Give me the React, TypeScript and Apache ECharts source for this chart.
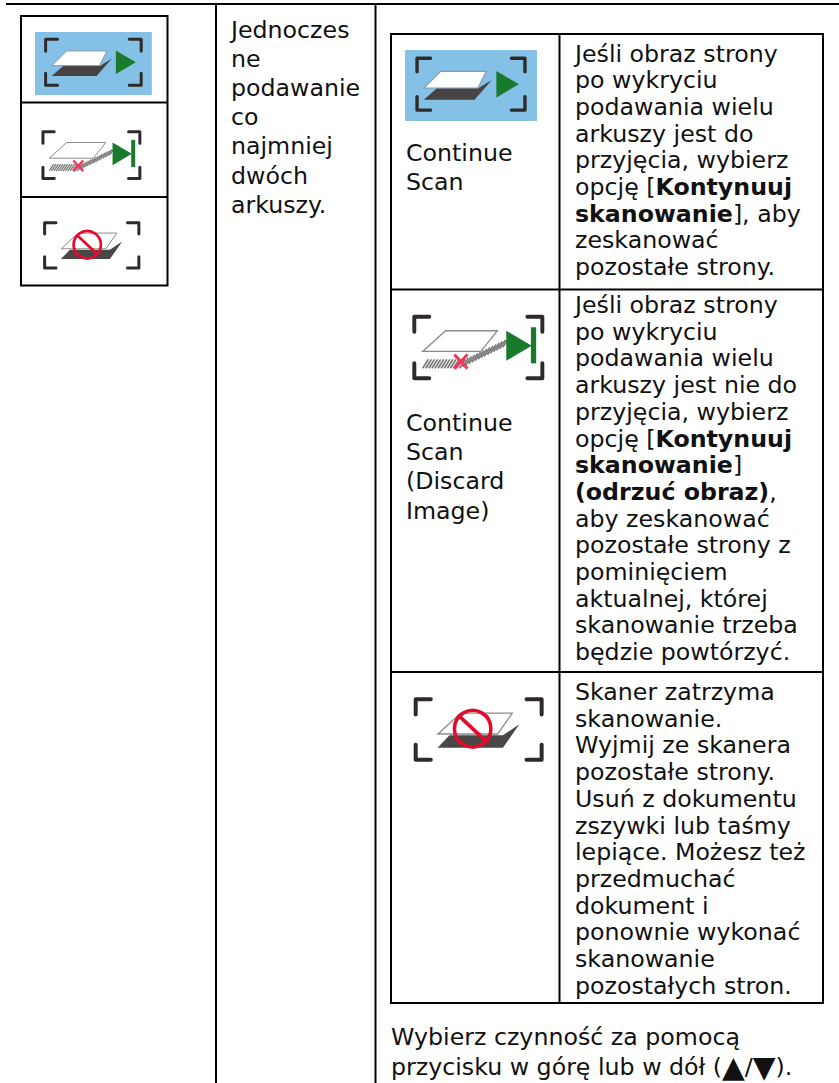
import React, { useEffect, useRef } from "react";
import * as echarts from "echarts";

const FONT = '"DejaVu Sans", Verdana, sans-serif';
const INK = "#111111";

const leftCellLines = ["Jednoczes", "ne", "podawanie", "co", "najmniej", "dwóch", "arkuszy."];
const caption1 = ["Continue", "Scan"];
const caption2 = ["Continue", "Scan", "(Discard", "Image)"];
const desc1 = [
  "Jeśli obraz strony",
  "po wykryciu",
  "podawania wielu",
  "arkuszy jest do",
  "przyjęcia, wybierz",
  "opcję [{b|Kontynuuj}",
  "{b|skanowanie}], aby",
  "zeskanować",
  "pozostałe strony.",
];
const desc2 = [
  "Jeśli obraz strony",
  "po wykryciu",
  "podawania wielu",
  "arkuszy jest nie do",
  "przyjęcia, wybierz",
  "opcję [{b|Kontynuuj}",
  "{b|skanowanie}]",
  "{b|(odrzuć obraz)},",
  "aby zeskanować",
  "pozostałe strony z",
  "pominięciem",
  "aktualnej, której",
  "skanowanie trzeba",
  "będzie powtórzyć.",
];
const desc3 = [
  "Skaner zatrzyma",
  "skanowanie.",
  "Wyjmij ze skanera",
  "pozostałe strony.",
  "Usuń z dokumentu",
  "zszywki lub taśmy",
  "lepiące. Możesz też",
  "przedmuchać",
  "dokument i",
  "ponownie wykonać",
  "skanowanie",
  "pozostałych stron.",
];
const footer = ["Wybierz czynność za pomocą", "przycisku w górę lub w dół ({t|▲}/{t|▼})."];

function rule(x1: number, y1: number, x2: number, y2: number, w = 2): any {
  return { type: "line", shape: { x1, y1, x2, y2 }, style: { stroke: "#000", lineWidth: w } };
}

function block(lines: string[], x: number, y0: number, step: number, size: number): any[] {
  return lines.map((t, i) => ({
    type: "text",
    x,
    y: y0 + i * step,
    style: {
      text: t,
      fontFamily: FONT,
      fontSize: size,
      fill: INK,
      verticalAlign: "middle",
      rich: {
        b: { fontFamily: FONT, fontSize: size, fontWeight: "bold", fill: INK },
        t: { fontFamily: FONT, fontSize: size * 1.25, fill: INK },
      },
    },
  }));
}

function brackets(l: number, t: number, r: number, b: number, arm: number, color = "#2f2a2a"): any[] {
  const st = { stroke: color, lineWidth: 9, fill: "none", lineJoin: "round", lineCap: "round" };
  const pl = (points: number[][]) => ({ type: "polyline", shape: { points }, style: st });
  return [
    pl([[l, t + arm], [l, t], [l + arm, t]]),
    pl([[r - arm, t], [r, t], [r, t + arm]]),
    pl([[l, b - arm], [l, b], [l + arm, b]]),
    pl([[r - arm, b], [r, b], [r, b - arm]]),
  ];
}

function poly(points: number[][], fill: string, stroke?: string, lineWidth = 3): any {
  return { type: "polygon", shape: { points }, style: { fill, stroke: stroke || "none", lineWidth } };
}

// Icon drawings are in a 3x space, their origin placed with x/y and scale.
function iconFeed(x: number, y: number, s: number): any {
  return {
    type: "group",
    x,
    y,
    scaleX: s,
    scaleY: s,
    children: [
      { type: "rect", shape: { x: 105, y: 96, width: 351, height: 189 }, style: { fill: "#85c1e6" } },
      ...brackets(137, 118, 424, 256, 36),
      poly([[155, 228], [190, 198], [300, 198], [336, 176], [290, 228]], "#474343"),
      poly([[156, 197], [200, 153], [321, 153], [299, 197]], "#ffffff", "#8a9aa5", 3),
      poly([[348, 152], [408, 187], [348, 222]], "#1a7a2c"),
    ],
  };
}

function iconDiscard(x: number, y: number, s: number): any {
  const hatch: any[] = [];
  for (let i = 0; i < 27; i++) {
    const hx = 148 + i * 7;
    const hy = 513 - (i > 12 ? (i - 12) * 3.4 : 0);
    hatch.push({
      type: "line",
      shape: { x1: hx, y1: hy, x2: hx + 13, y2: hy - 20 },
      style: { stroke: "#7a7a7a", lineWidth: 4 },
    });
  }
  return {
    type: "group",
    x,
    y,
    scaleX: s,
    scaleY: s,
    children: [
      ...hatch,
      poly([[148, 475], [200, 428], [318, 428], [280, 475]], "#ffffff", "#8c8c8c", 3),
      ...brackets(129, 396, 420, 536, 34),
      { type: "line", shape: { x1: 220, y1: 482, x2: 250, y2: 514 }, style: { stroke: "#ef3a5d", lineWidth: 7 } },
      { type: "line", shape: { x1: 250, y1: 482, x2: 220, y2: 514 }, style: { stroke: "#ef3a5d", lineWidth: 7 } },
      poly([[338, 428], [396, 462], [338, 496]], "#1a7a2c"),
      { type: "rect", shape: { x: 394, y: 420, width: 12, height: 82 }, style: { fill: "#1a7a2c" } },
    ],
  };
}

function iconStop(x: number, y: number, s: number): any {
  return {
    type: "group",
    x,
    y,
    scaleX: s,
    scaleY: s,
    children: [
      ...brackets(134, 669, 417, 805, 34),
      poly([[183, 778], [210, 750], [330, 750], [367, 725], [330, 778]], "#4a4646"),
      poly([[184, 747], [235, 700], [351, 700], [318, 747]], "#ffffff", "#8c8c8c", 3),
      { type: "circle", shape: { cx: 262, cy: 735, r: 41 }, style: { fill: "none", stroke: "#e5092b", lineWidth: 8 } },
      { type: "line", shape: { x1: 233, y1: 708, x2: 292, y2: 763 }, style: { stroke: "#e5092b", lineWidth: 8 } },
    ],
  };
}

export default function App() {
  const ref = useRef<HTMLDivElement>(null);
  useEffect(() => {
    if (!ref.current) return;
    const chart = echarts.init(ref.current, undefined, { renderer: "svg" });
    const third = 1 / 3;
    const SIZE = 23.7;
    chart.setOption({
      animation: false,
      backgroundColor: "#ffffff",
      graphic: {
        elements: [
          rule(6, 4, 839, 4),
          rule(216, 4, 216, 1083),
          rule(375.5, 4, 375.5, 1083),
          // left icon box
          { type: "rect", shape: { x: 21, y: 16, width: 146.5, height: 269.5 }, style: { fill: "none", stroke: "#000", lineWidth: 2 } },
          rule(21, 102.5, 167, 102.5),
          rule(21, 197, 167, 197),
          iconFeed(0, 0, third),
          iconDiscard(0, 0, third),
          iconStop(0, 0, third),
          // inner table
          { type: "rect", shape: { x: 391, y: 34, width: 432, height: 969 }, style: { fill: "none", stroke: "#000", lineWidth: 2 } },
          rule(559.5, 34, 559.5, 1003),
          rule(391, 289.5, 823, 289.5),
          rule(391, 672, 823, 672),
          iconFeed(405 - 105 * 0.376, 50 - 96 * 0.376, 0.376),
          iconDiscard(414.3 - 129 * 0.44, 316.7 - 396 * 0.44, 0.44),
          iconStop(415.7 - 134 * 0.445, 699.3 - 669 * 0.445, 0.445),
          ...block(leftCellLines, 231, 29.5, 29.2, SIZE),
          ...block(caption1, 406, 153, 29.2, SIZE),
          ...block(caption2, 406, 423, 29.2, SIZE),
          ...block(desc1, 575, 53.5, 26.7, SIZE),
          ...block(desc2, 575, 305, 26.7, SIZE),
          ...block(desc3, 575, 692, 26.7, SIZE),
          ...block(footer, 391, 1037, 30, SIZE),
        ],
      },
    });
    return () => chart.dispose();
  }, []);
  return <div ref={ref} style={{ position: "fixed", left: 0, top: 0, width: 839, height: 1083 }} />;
}
